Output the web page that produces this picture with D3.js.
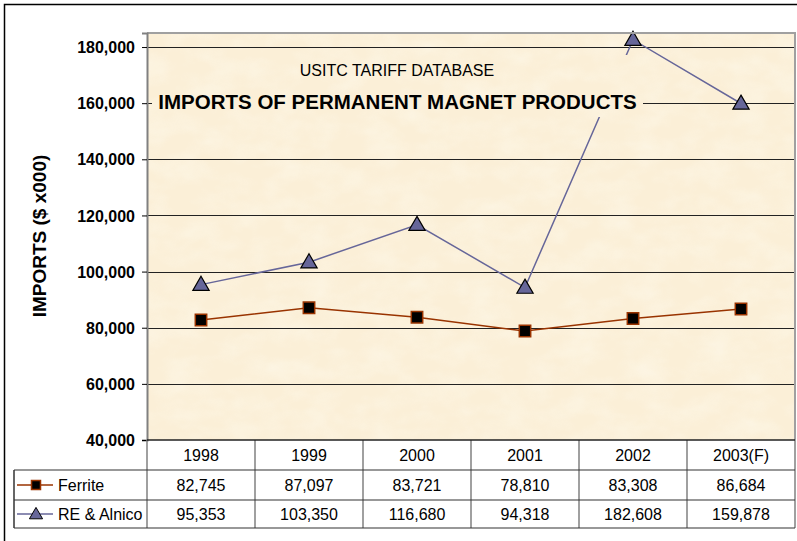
<!DOCTYPE html>
<html><head><meta charset="utf-8">
<script src="https://cdn.jsdelivr.net/npm/d3@7"></script>
<style>body{margin:0;background:#fff}svg{display:block;font-family:Arial,"Liberation Sans",sans-serif}</style>
</head><body><svg id="c" width="797" height="541"></svg>
<script>
const years = ["1998","1999","2000","2001","2002","2003(F)"];
const ferrite = [82745,87097,83721,78810,83308,86684];
const reAlnico = [95353,103350,116680,94318,182608,159878];
const yTicks = [40000,60000,80000,100000,120000,140000,160000,180000];
const seriesNames = ["Ferrite","RE & Alnico"];
const titleLine1 = "USITC TARIFF DATABASE";
const titleLine2 = "IMPORTS OF PERMANENT MAGNET PRODUCTS";
const yLabel = "IMPORTS ($ x000)";

const svg = d3.select("#c");
const L = 147, R = 795, T = 33, B = 440;
const rowH = [30, 30, 28];
const legendLeft = 14;
const bg = "#FBEFD7";
const cFer = "#993300", cRE = "#666699";

const x = d3.scaleBand().domain(years).range([L, R]);
const y = d3.scaleLinear().domain([40000, 185000]).range([B, T]);
const fmt = d3.format(",");

const defs = svg.append("defs");
const f = defs.append("filter").attr("id","tex").attr("filterUnits","userSpaceOnUse")
  .attr("x",0).attr("y",0).attr("width",797).attr("height",541);
f.append("feTurbulence").attr("type","fractalNoise").attr("baseFrequency","0.03 0.05").attr("numOctaves",3).attr("seed",4).attr("result","n");
f.append("feColorMatrix").attr("in","n").attr("type","matrix")
  .attr("values","0 0 0 0 1  0 0 0 0 0.99  0 0 0 0 0.93  1.2 0 0 0 -0.45");
f.append("feComposite").attr("in2","SourceGraphic").attr("operator","in");

// outer frame
svg.append("rect").attr("x",4.5).attr("y",4.5).attr("width",820).attr("height",560)
  .attr("fill","none").attr("stroke","#000").attr("stroke-width",1.5);

// plot background
const plotBg = (x0,y0,w,h) => {
  svg.append("rect").attr("x",x0).attr("y",y0).attr("width",w).attr("height",h).attr("fill",bg);
  svg.append("rect").attr("x",x0).attr("y",y0).attr("width",w).attr("height",h).attr("fill","#000").attr("filter","url(#tex)").attr("opacity",0.55);
};
plotBg(L, T, R-L, B-T);

// gridlines
svg.append("g").selectAll("line").data(yTicks.filter(d=>d>40000)).join("line")
  .attr("x1",L).attr("x2",R).attr("y1",d=>Math.round(y(d))+0.5).attr("y2",d=>Math.round(y(d))+0.5)
  .attr("stroke","#222").attr("stroke-width",1);

// series lines
const line = d3.line().x((d,i)=>x(years[i])+x.bandwidth()/2).y(d=>y(d));
svg.append("path").datum(reAlnico).attr("d",line).attr("fill","none").attr("stroke",cRE).attr("stroke-width",1.5);
svg.append("path").datum(ferrite).attr("d",line).attr("fill","none").attr("stroke",cFer).attr("stroke-width",1.5);

// title box
plotBg(152, 55, 491, 62);
svg.append("text").attr("x",397).attr("y",76).attr("text-anchor","middle")
  .attr("font-size",16).attr("fill","#000").text(titleLine1);
svg.append("text").attr("x",397.5).attr("y",109).attr("text-anchor","middle")
  .attr("font-size",20.5).attr("font-weight","bold").attr("fill","#000").text(titleLine2);

// markers
const tri = d3.symbol().type(d3.symbolTriangle).size(115);
const sq = d3.symbol().type(d3.symbolSquare).size(130);
svg.append("g").selectAll("path").data(reAlnico).join("path")
  .attr("transform",(d,i)=>`translate(${x(years[i])+x.bandwidth()/2},${y(d)+1})`)
  .attr("d",tri).attr("fill",cRE).attr("stroke","#000").attr("stroke-width",1.2);
svg.append("g").selectAll("path").data(ferrite).join("path")
  .attr("transform",(d,i)=>`translate(${x(years[i])+x.bandwidth()/2},${y(d)})`)
  .attr("d",sq).attr("fill","#000").attr("stroke",cFer).attr("stroke-width",1.5);

// plot border (top/right)
svg.append("path").attr("d",`M${L},${T} H${R} V${B}`).attr("fill","none").attr("stroke","#a0a0a0").attr("stroke-width",2);

// y axis
const yAxis = d3.axisLeft(y).tickValues(yTicks).tickFormat(fmt).tickSize(5).tickPadding(7);
const ga = svg.append("g").attr("transform",`translate(${L},0)`).call(yAxis);
ga.select(".domain").attr("stroke","#808080").attr("stroke-width",2);
ga.selectAll(".tick line").attr("stroke","#000");
ga.selectAll(".tick text").attr("font-size",16).attr("font-weight","bold").attr("fill","#000")
  .attr("font-family","Arial, 'Liberation Sans', sans-serif").attr("dy","0.35em");

svg.append("text").attr("transform","translate(46,236) rotate(-90)").attr("text-anchor","middle")
  .attr("font-size",19).attr("font-weight","bold").text(yLabel);

// data table
const rowY = [B, B+rowH[0], B+rowH[0]+rowH[1], B+rowH[0]+rowH[1]+rowH[2]];
const tbl = svg.append("g");
const vx = years.map(d=>x(d)).concat([R]);
tbl.selectAll("line.v").data(vx).join("line").attr("class","v")
  .attr("x1",d=>d).attr("x2",d=>d).attr("y1",B).attr("y2",rowY[3])
  .attr("stroke","#808080").attr("stroke-width",1.5);
tbl.append("line").attr("x1",legendLeft).attr("x2",legendLeft).attr("y1",rowY[1]).attr("y2",rowY[3])
  .attr("stroke","#333").attr("stroke-width",1.5);
tbl.append("line").attr("x1",L).attr("x2",R).attr("y1",B).attr("y2",B).attr("stroke","#222").attr("stroke-width",1.5);
[rowY[1],rowY[2],rowY[3]].forEach(yy=>{
  tbl.append("line").attr("x1",legendLeft).attr("x2",R).attr("y1",yy).attr("y2",yy).attr("stroke","#333").attr("stroke-width",1.2);
});
tbl.selectAll("text.h").data(years).join("text").attr("class","h")
  .attr("x",d=>x(d)+x.bandwidth()/2).attr("y",(rowY[0]+rowY[1])/2+5.5).attr("text-anchor","middle")
  .attr("font-size",16).text(d=>d);
const rows = [ferrite, reAlnico];
rows.forEach((vals,r)=>{
  const cy = (rowY[r+1]+rowY[r+2])/2;
  tbl.append("g").selectAll("text").data(vals).join("text")
    .attr("x",(d,i)=>x(years[i])+x.bandwidth()/2).attr("y",cy+5.5).attr("text-anchor","middle")
    .attr("font-size",16).text(d=>fmt(d));
  const col = r===0 ? cFer : cRE;
  tbl.append("line").attr("x1",17).attr("x2",53).attr("y1",cy).attr("y2",cy).attr("stroke",col).attr("stroke-width",1.5);
  if (r===0) {
    tbl.append("path").attr("transform",`translate(36,${cy})`).attr("d",d3.symbol().type(d3.symbolSquare).size(81))
      .attr("fill","#000").attr("stroke",cFer).attr("stroke-width",1.5);
  } else {
    tbl.append("path").attr("transform",`translate(36,${cy+1})`).attr("d",d3.symbol().type(d3.symbolTriangle).size(75))
      .attr("fill",cRE).attr("stroke","#000").attr("stroke-width",1);
  }
  tbl.append("text").attr("x",58).attr("y",cy+5.5).attr("font-size",16).text(seriesNames[r]);
});
</script></body></html>
